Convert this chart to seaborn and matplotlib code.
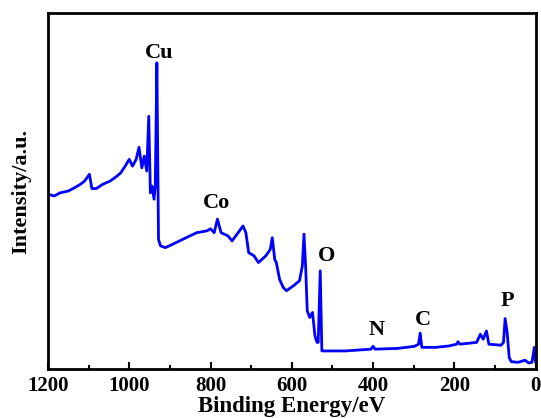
import matplotlib
matplotlib.use("Agg")
import matplotlib.pyplot as plt
import seaborn as sns
import pandas as pd
from matplotlib.ticker import MultipleLocator

binding_energy = [1200, 1185, 1170, 1150, 1135, 1120, 1110, 1098, 1092, 1081, 1065, 1047,
                  1030, 1021, 1010, 1000, 992, 983, 976, 969, 963, 957, 952, 948, 944, 939,
                  936, 932, 928, 923, 911, 885, 860, 834, 809, 800, 791, 783, 774, 757, 747,
                  732, 720, 713, 706, 693, 682, 664, 653, 648, 642, 638, 630, 621, 613, 596,
                  581, 574, 570, 566, 562, 556, 549, 543, 538, 535, 530, 526, 468, 405, 400,
                  395, 340, 298, 288, 284, 280, 246, 213, 194, 191, 186, 145, 136, 129, 121,
                  115, 85, 79, 75, 70, 65, 60, 43, 26, 17, 9, 3, 0]
intensity = [49.1, 48.6, 49.5, 50.0, 50.9, 51.9, 52.8, 54.7, 50.7, 50.7, 51.9, 52.8,
             54.2, 55.1, 57.0, 58.9, 57.0, 58.9, 62.3, 56.5, 59.8, 55.6, 71.0, 49.5, 51.4, 47.7,
             51.4, 86.0, 36.4, 34.6, 34.1, 35.5, 36.9, 38.3, 38.8, 39.4, 38.3, 42.1, 38.3, 37.4, 36.0,
             38.3, 40.2, 38.3, 32.7, 31.8, 29.9, 31.8, 33.6, 36.9, 30.8, 29.9, 25.2, 22.9, 22.0, 23.4,
             24.8, 29.0, 37.9, 29.0, 16.4, 14.5, 15.9, 9.3, 7.5, 7.5, 27.6, 5.1, 5.1, 5.6, 6.4,
             5.6, 5.8, 6.4, 7.0, 10.1, 6.1, 6.1, 6.5, 7.0, 7.7, 7.0, 7.5, 9.8, 8.4, 10.7,
             7.0, 6.7, 7.5, 14.2, 10.3, 3.3, 2.1, 1.9, 2.5, 1.7, 1.9, 6.1, 1.9]

peak_labels = ["Cu", "Co", "O", "N", "C", "P"]
label_x = [926, 785, 515, 390, 278, 70]
label_y = [88.8, 46.5, 31.8, 11.0, 13.8, 19.2]

xticks = [1200, 1000, 800, 600, 400, 200, 0]

sns.set_theme(style="white")
plt.rcParams["font.family"] = ["Liberation Serif", "DejaVu Serif"]
plt.rcParams["font.weight"] = "bold"
plt.rcParams["text.color"] = "black"
plt.rcParams["axes.labelcolor"] = "black"
plt.rcParams["xtick.color"] = "black"

df = pd.DataFrame({"Binding Energy": binding_energy, "Intensity": intensity})

fig = plt.figure(figsize=(5.41, 4.18), dpi=100)
ax = fig.add_axes([0.0887, 0.117, 0.9013, 0.852])
sns.lineplot(data=df, x="Binding Energy", y="Intensity", ax=ax,
             color="#0000FF", linewidth=2.0)

ax.set_xlim(1200, 0)
ax.set_ylim(0, 100)
ax.set_xticks(xticks)
ax.set_xticklabels([str(t) for t in xticks], fontsize=15, fontweight="bold")
ax.xaxis.set_minor_locator(MultipleLocator(100))
ax.tick_params(axis="x", which="major", direction="in", length=5, width=1.5,
               bottom=True, top=False, pad=5)
ax.tick_params(axis="x", which="minor", direction="in", length=3, width=1.5,
               bottom=True, top=False)
ax.set_yticks([])
ax.set_xlabel("Binding Energy/eV", fontsize=16.5, fontweight="bold", labelpad=0)
ax.set_ylabel("Intensity/a.u.", fontsize=16, fontweight="bold", labelpad=12)

for s in ax.spines.values():
    s.set_visible(True)
    s.set_color("black")
    s.set_linewidth(2)

for name, x, y in zip(peak_labels, label_x, label_y):
    ax.text(x, y, name, fontsize=16, fontweight="bold", ha="center", va="center")

fig.savefig("out.png", dpi=100)
